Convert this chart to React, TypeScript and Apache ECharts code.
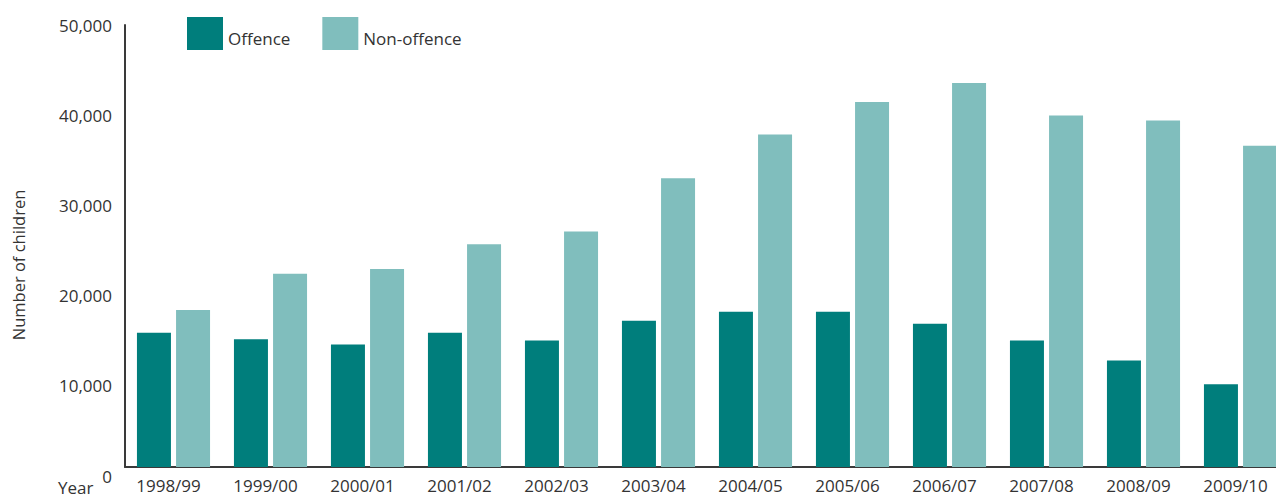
import React, { useEffect, useRef } from "react";
import * as echarts from "echarts";

const years = ["1998/99", "1999/00", "2000/01", "2001/02", "2002/03", "2003/04", "2004/05", "2005/06", "2006/07", "2007/08", "2008/09", "2009/10"];
const offence = [15200, 14450, 13850, 15200, 14300, 16550, 17570, 17570, 16200, 14300, 12050, 9350];
const nonOffence = [17750, 21850, 22400, 25200, 26650, 32650, 37600, 41300, 43450, 39750, 39200, 36350];
const yTicks = [0, 10000, 20000, 30000, 40000, 50000];

const FONT = "Open Sans";
const TXT = "#333333";

export default function App() {
  const ref = useRef<HTMLDivElement>(null);
  useEffect(() => {
    if (!ref.current) return;
    const chart = echarts.init(ref.current, null, { renderer: "svg" });
    const yMin = yTicks[0];
    const yMax = yTicks[yTicks.length - 1];
    chart.setOption({
      animation: false,
      backgroundColor: "#ffffff",
      textStyle: { fontFamily: FONT },
      legend: {
        left: 182,
        top: 12,
        itemWidth: 36,
        itemHeight: 33,
        itemGap: 32,
        icon: "rect",
        formatter: "{a|{name}}",
        textStyle: {
          fontFamily: FONT,
          fontSize: 17,
          color: TXT,
          rich: { a: { fontFamily: FONT, fontSize: 17, color: TXT, padding: [10, 0, 0, 0] } },
        },
        data: ["Offence", "Non-offence"],
      },
      grid: [
        { left: 125, top: 25, bottom: 25, width: 1164 },
        { left: 125, top: 25.5, bottom: 18, width: 1164 },
      ],
      xAxis: [
        {
          type: "category",
          data: years,
          gridIndex: 0,
          axisLine: { show: true, lineStyle: { color: "#3a3a3a", width: 2 } },
          axisTick: { show: false },
          axisLabel: {
            color: TXT,
            fontSize: 17,
            fontFamily: FONT,
            margin: 10,
            lineHeight: 17,
            padding: [0, 10, 0, 0],
          },
        },
        { type: "category", data: years, gridIndex: 1, show: false },
      ],
      yAxis: [
        {
          type: "value",
          gridIndex: 0,
          min: yMin,
          max: yMax,
          interval: 10000,
          axisLine: { show: true, lineStyle: { color: "#3a3a3a", width: 2 } },
          axisTick: { show: false },
          splitLine: { show: false },
          axisLabel: { show: false },
        },
        {
          type: "value",
          gridIndex: 1,
          min: yMin,
          max: yMax,
          interval: 10000,
          axisLine: { show: false },
          axisTick: { show: false },
          splitLine: { show: false },
          axisLabel: {
            color: TXT,
            fontSize: 17,
            fontFamily: FONT,
            margin: 13,
            formatter: (v: number) => v.toLocaleString("en-US"),
          },
        },
      ],
      series: [
        {
          name: "Offence",
          type: "bar",
          data: offence,
          barWidth: 34,
          barGap: "15%",
          itemStyle: { color: "#007e7c" },
        },
        {
          name: "Non-offence",
          type: "bar",
          data: nonOffence,
          barWidth: 34,
          itemStyle: { color: "#80bebd" },
        },
      ],
      graphic: [
        {
          type: "text",
          x: 58,
          y: 487,
          style: { text: "Year", fontSize: 17, fontFamily: FONT, fill: TXT, verticalAlign: "middle" },
        },
        {
          type: "text",
          x: 18,
          y: 265,
          rotation: Math.PI / 2,
          style: {
            text: "Number of children",
            fontSize: 16.5,
            fontFamily: FONT,
            fill: TXT,
            align: "center",
            verticalAlign: "middle",
          },
        },
      ],
    });
    return () => chart.dispose();
  }, []);
  return (
    <div style={{ position: "fixed", left: 0, top: 0, width: 1276, height: 494, overflow: "hidden" }}>
      <div ref={ref} style={{ width: 1300, height: 494 }} />
    </div>
  );
}
